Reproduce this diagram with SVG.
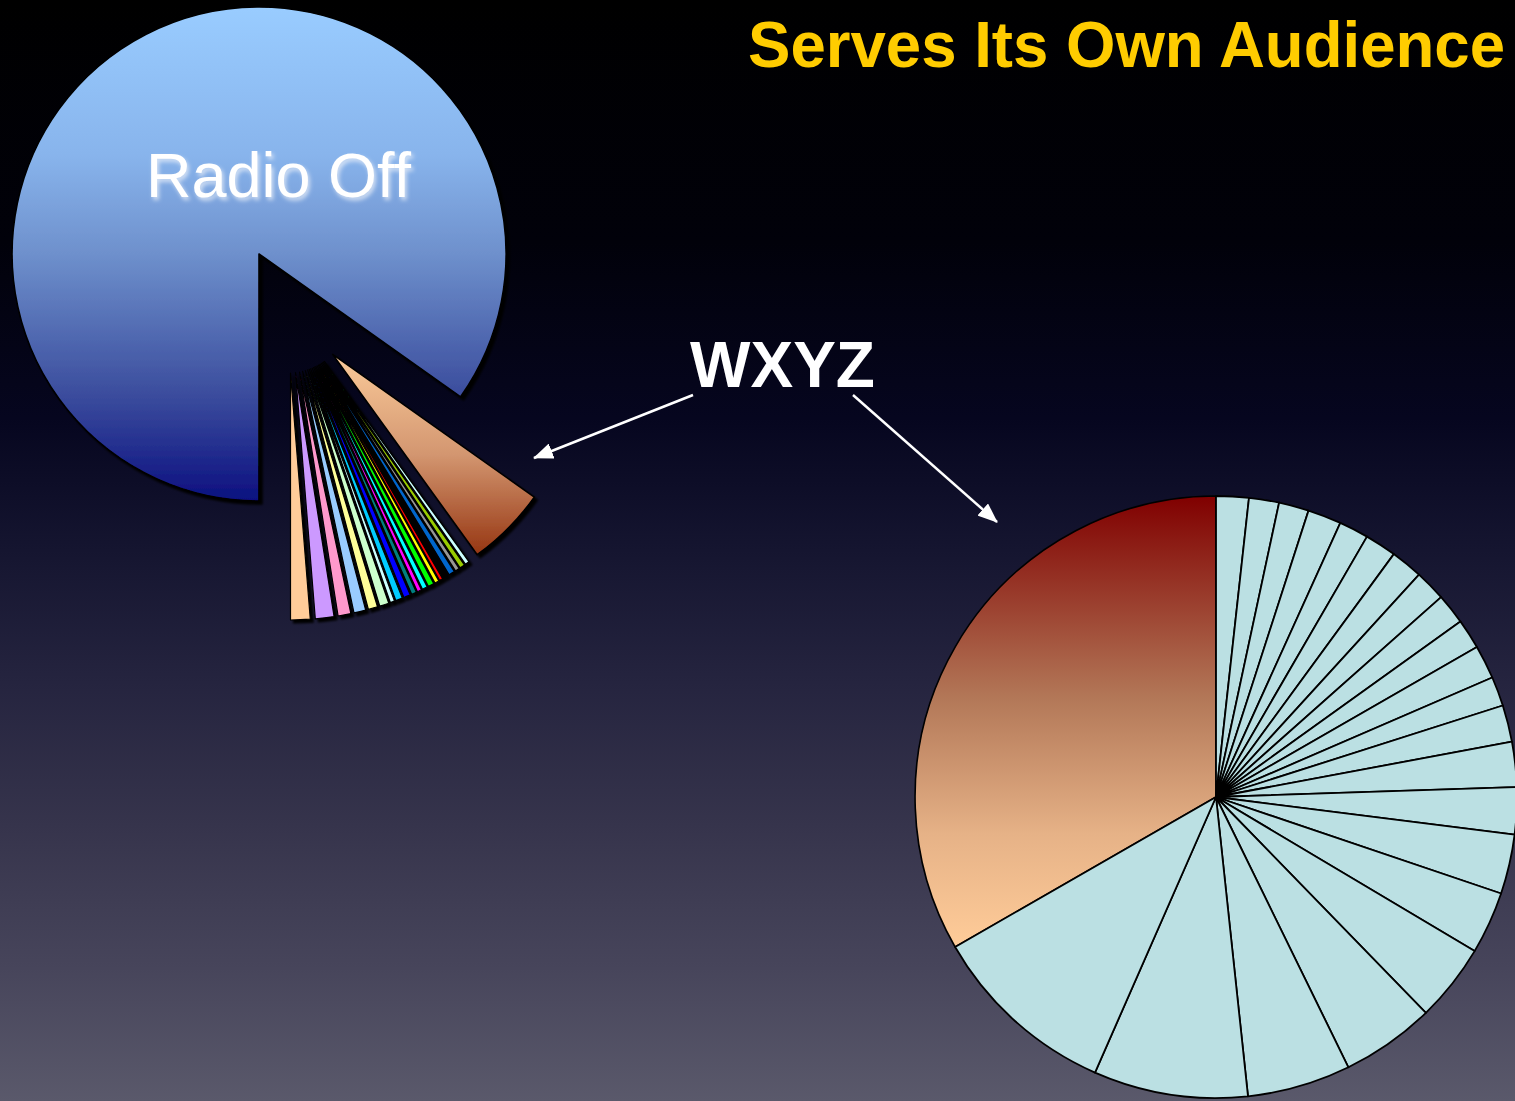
<svg xmlns="http://www.w3.org/2000/svg" width="1515" height="1101" viewBox="0 0 1515 1101">
  <defs>
    <linearGradient id="bg" x1="0" y1="0" x2="0" y2="1">
      <stop offset="0" stop-color="#000000"/>
      <stop offset="0.22" stop-color="#01010a"/>
      <stop offset="0.38" stop-color="#06061f"/>
      <stop offset="0.5" stop-color="#151530"/>
      <stop offset="0.62" stop-color="#25243f"/>
      <stop offset="0.75" stop-color="#36344c"/>
      <stop offset="0.88" stop-color="#47455b"/>
      <stop offset="1" stop-color="#5a596b"/>
    </linearGradient>
    <linearGradient id="offGrad" x1="0" y1="0" x2="0" y2="1">
      <stop offset="0" stop-color="#99ccff"/>
      <stop offset="0.3" stop-color="#88b4ec"/>
      <stop offset="0.5" stop-color="#6e90cc"/>
      <stop offset="0.78" stop-color="#3c4e9e"/>
      <stop offset="1" stop-color="#0c1080"/>
    </linearGradient>
    <linearGradient id="wxyzGrad" x1="0" y1="0" x2="0" y2="1">
      <stop offset="0" stop-color="#fbcb9a"/>
      <stop offset="0.5" stop-color="#d39670"/>
      <stop offset="1" stop-color="#963612"/>
    </linearGradient>
    <linearGradient id="shareGrad" x1="0" y1="0" x2="0" y2="1">
      <stop offset="0" stop-color="#800000"/>
      <stop offset="0.45" stop-color="#b37858"/>
      <stop offset="0.75" stop-color="#e6b287"/>
      <stop offset="1" stop-color="#ffcc99"/>
    </linearGradient>
    <filter id="shadow" x="-10%" y="-10%" width="130%" height="130%">
      <feDropShadow dx="3" dy="3" stdDeviation="0.8" flood-color="#000000" flood-opacity="1"/>
    </filter>
    <filter id="glow" x="-10%" y="-20%" width="130%" height="150%">
      <feGaussianBlur in="SourceAlpha" stdDeviation="2"/>
      <feOffset dx="2" dy="3" result="b"/>
      <feFlood flood-color="#e8eef8" flood-opacity="0.8"/>
      <feComposite in2="b" operator="in"/>
      <feMerge><feMergeNode/><feMergeNode in="SourceGraphic"/></feMerge>
    </filter>
    <marker id="arrow" markerUnits="userSpaceOnUse" markerWidth="20" markerHeight="16" refX="19" refY="8" orient="auto">
      <path d="M0,0 L20,8 L0,16 Z" fill="#ffffff"/>
    </marker>
    <style>
      .ls { stroke: #000000; stroke-width: 1.6; stroke-linejoin: round; }
      .ss { stroke: #000000; stroke-width: 1.2; stroke-linejoin: round; }
      .rs { fill: #bbe0e3; stroke: #000000; stroke-width: 1.8; stroke-linejoin: round; }
      .conn { stroke: #ffffff; stroke-width: 2.5; fill: none; }
      .title { font-family: "Liberation Sans", Arial, sans-serif; font-weight: bold; fill: #ffcc00; }
      .label { font-family: "Liberation Sans", Arial, sans-serif; fill: #ffffff; }
    </style>
  </defs>

  <rect x="0" y="0" width="1515" height="1101" fill="url(#bg)"/>

  <g id="title">
    <text class="title" x="1505" y="67" font-size="64" text-anchor="end" textLength="757" lengthAdjust="spacingAndGlyphs">Serves Its Own Audience</text>
  </g>

  <g id="market-pie" filter="url(#shadow)">
    <path id="radio-off" class="ls" fill="url(#offGrad)" d="M259,254 L259,501 A247,247 0 1 1 460.6,396.8 Z"/>
    <path id="wxyz-slice" class="ls" fill="url(#wxyzGrad)" d="M332.7,354.4 L534.3,497.1 A247,247 0 0 1 477.2,554.7 Z"/>
    <path class="ss" fill="#ccffff" d="M324.4,361.4 L468.9,561.7 A247,247 0 0 1 465.4,564.2 Z"/>
    <path class="ss" fill="#99cc00" d="M323.4,362.1 L464.4,564.9 A247,247 0 0 1 460.1,567.8 Z"/>
    <path class="ss" fill="#969696" d="M322.4,362.8 L459.1,568.5 A247,247 0 0 1 455.5,570.9 Z"/>
    <path class="ss" fill="#0066cc" d="M321.3,363.5 L454.4,571.6 A247,247 0 0 1 449.2,574.8 Z"/>
    <path class="ss" fill="#000000" d="M320.1,364.2 L448.0,575.5 A247,247 0 0 1 443.6,578.1 Z"/>
    <path class="ss" fill="#ff0000" d="M319.1,364.8 L442.6,578.7 A247,247 0 0 1 439.6,580.4 Z"/>
    <path class="ss" fill="#ffff00" d="M318.3,365.3 L438.8,580.9 A247,247 0 0 1 435.0,583.0 Z"/>
    <path class="ss" fill="#00ff00" d="M317.1,365.9 L433.8,583.6 A247,247 0 0 1 428.5,586.4 Z"/>
    <path class="ss" fill="#00ffff" d="M315.8,366.5 L427.2,587.0 A247,247 0 0 1 422.5,589.2 Z"/>
    <path class="ss" fill="#ff00ff" d="M314.7,367.1 L421.4,589.8 A247,247 0 0 1 417.5,591.7 Z"/>
    <path class="ss" fill="#008080" d="M313.6,367.6 L416.4,592.2 A247,247 0 0 1 411.7,594.3 Z"/>
    <path class="ss" fill="#0000ff" d="M312.2,368.2 L410.3,594.9 A247,247 0 0 1 403.9,597.5 Z"/>
    <path class="ss" fill="#00ccff" d="M310.6,368.8 L402.3,598.1 A247,247 0 0 1 395.9,600.6 Z"/>
    <path class="ss" fill="#ccffff" d="M309.2,369.3 L394.5,601.1 A247,247 0 0 1 390.4,602.6 Z"/>
    <path class="ss" fill="#ccffcc" d="M307.6,369.9 L388.8,603.2 A247,247 0 0 1 379.8,606.1 Z"/>
    <path class="ss" fill="#ffff99" d="M305.3,370.6 L377.5,606.8 A247,247 0 0 1 368.4,609.4 Z"/>
    <path class="ss" fill="#99ccff" d="M302.6,371.3 L365.7,610.1 A247,247 0 0 1 354.0,612.9 Z"/>
    <path class="ss" fill="#ff99cc" d="M299.5,372.0 L350.9,613.6 A247,247 0 0 1 338.1,616.0 Z"/>
    <path class="ss" fill="#cc99ff" d="M295.5,372.6 L334.1,616.6 A247,247 0 0 1 315.3,618.8 Z"/>
    <path class="ss" fill="#ffcc99" d="M290.5,373.0 L310.3,619.2 A247,247 0 0 1 290.5,620.0 Z"/>
  </g>

  <g id="radio-off-label">
    <text class="label" x="146" y="197" font-size="63" filter="url(#glow)">Radio Off</text>
  </g>

  <g id="wxyz-label">
    <text class="label" x="782.5" y="387" font-size="64" font-weight="bold" text-anchor="middle">WXYZ</text>
  </g>

  <g id="station-pie">
    <path id="wxyz-share" class="ls" fill="url(#shareGrad)" d="M1216,797 L955.1,947 A301,301 0 0 1 1216,496 Z"/>
    <path class="rs" d="M1216,797 L1216,496 A301,301 0 0 1 1249.0,497.8 Z"/>
    <path class="rs" d="M1216,797 L1249.0,497.8 A301,301 0 0 1 1279.1,502.7 Z"/>
    <path class="rs" d="M1216,797 L1279.1,502.7 A301,301 0 0 1 1308.5,510.6 Z"/>
    <path class="rs" d="M1216,797 L1308.5,510.6 A301,301 0 0 1 1340.3,522.9 Z"/>
    <path class="rs" d="M1216,797 L1340.3,522.9 A301,301 0 0 1 1367.0,536.6 Z"/>
    <path class="rs" d="M1216,797 L1367.0,536.6 A301,301 0 0 1 1393.8,554.1 Z"/>
    <path class="rs" d="M1216,797 L1393.8,554.1 A301,301 0 0 1 1419.0,574.7 Z"/>
    <path class="rs" d="M1216,797 L1419.0,574.7 A301,301 0 0 1 1441.1,597.2 Z"/>
    <path class="rs" d="M1216,797 L1441.1,597.2 A301,301 0 0 1 1460.4,621.4 Z"/>
    <path class="rs" d="M1216,797 L1460.4,621.4 A301,301 0 0 1 1476.9,647.0 Z"/>
    <path class="rs" d="M1216,797 L1476.9,647.0 A301,301 0 0 1 1492.3,677.5 Z"/>
    <path class="rs" d="M1216,797 L1492.3,677.5 A301,301 0 0 1 1502.8,705.5 Z"/>
    <path class="rs" d="M1216,797 L1502.8,705.5 A301,301 0 0 1 1511.9,741.6 Z"/>
    <path class="rs" d="M1216,797 L1511.9,741.6 A301,301 0 0 1 1516.8,787.0 Z"/>
    <path class="rs" d="M1216,797 L1516.8,787.0 A301,301 0 0 1 1514.6,834.7 Z"/>
    <path class="rs" d="M1216,797 L1514.6,834.7 A301,301 0 0 1 1501.1,893.5 Z"/>
    <path class="rs" d="M1216,797 L1501.1,893.5 A301,301 0 0 1 1474.6,951.1 Z"/>
    <path class="rs" d="M1216,797 L1474.6,951.1 A301,301 0 0 1 1425.9,1012.8 Z"/>
    <path class="rs" d="M1216,797 L1425.9,1012.8 A301,301 0 0 1 1348.4,1067.3 Z"/>
    <path class="rs" d="M1216,797 L1348.4,1067.3 A301,301 0 0 1 1248.0,1096.3 Z"/>
    <path class="rs" d="M1216,797 L1248.0,1096.3 A301,301 0 0 1 1095.0,1072.6 Z"/>
    <path class="rs" d="M1216,797 L1095.0,1072.6 A301,301 0 0 1 955.1,947.0 Z"/>
  </g>

  <g id="connectors">
    <line class="conn" x1="693" y1="395" x2="534" y2="458" marker-end="url(#arrow)"/>
    <line class="conn" x1="853" y1="395" x2="997" y2="522" marker-end="url(#arrow)"/>
  </g>
</svg>
